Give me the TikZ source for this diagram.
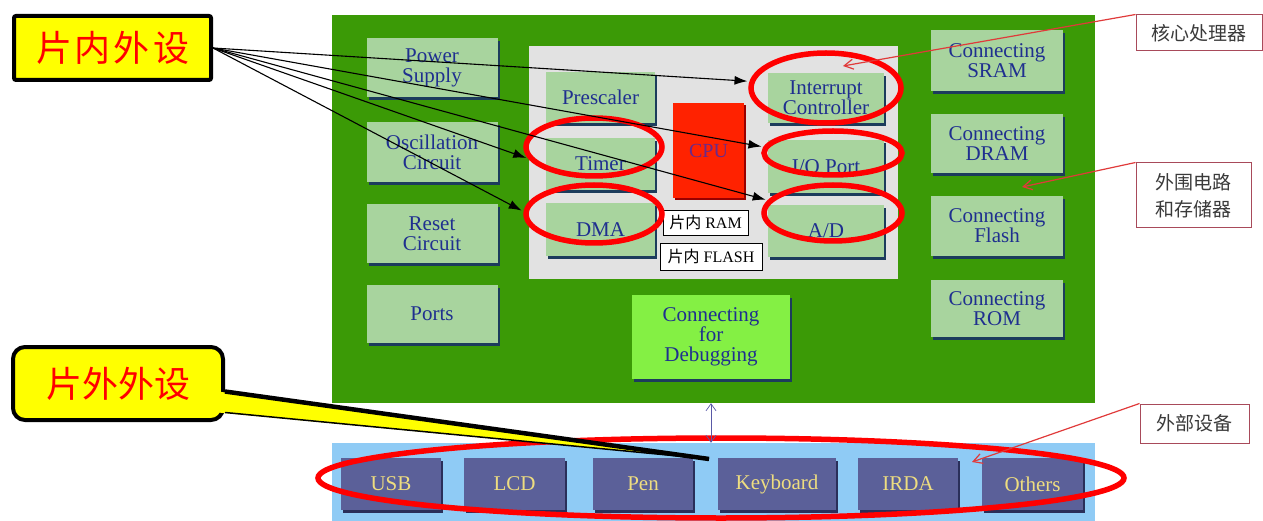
\documentclass[tikz,border=0pt]{standalone}
\usepackage{fontspec}
\setmainfont{Liberation Serif}
\newfontfamily\cjk{Noto Sans CJK SC}
\usepackage{tikz}
\usetikzlibrary{arrows.meta,shadows,shapes.geometric}
\definecolor{boardgreen}{HTML}{3B9A06}
\definecolor{partfill}{HTML}{A8D49E}
\definecolor{partedge}{HTML}{1C3C5C}
\definecolor{partink}{HTML}{1F2F8F}
\definecolor{corefill}{HTML}{E2E2E2}
\definecolor{cpured}{HTML}{FF2200}
\definecolor{cpuink}{HTML}{6A2A8A}
\definecolor{dbgfill}{HTML}{84F044}
\definecolor{busblue}{HTML}{8FCBF5}
\definecolor{devfill}{HTML}{5B6099}
\definecolor{devedge}{HTML}{2A2F5A}
\definecolor{devink}{HTML}{EEDD80}
\definecolor{ringred}{HTML}{FF0000}
\definecolor{calloutyellow}{HTML}{FFFF00}
\definecolor{labeledge}{HTML}{A84A5A}
\definecolor{labelink}{HTML}{3A3A3A}
\definecolor{pointerred}{HTML}{E03A3A}
\newcommand{\partfont}{\fontsize{21}{20}\selectfont}
\newcommand{\devfont}{\fontsize{21}{21}\selectfont}
\tikzset{
  part/.style={fill=partfill,text=partink,align=center,font=\partfont,
    minimum width=131pt,minimum height=59pt,inner sep=0pt,
    drop shadow={shadow xshift=2pt,shadow yshift=-3pt,fill=partedge,opacity=1}},
  inpart/.style={part,minimum width=109pt,minimum height=51pt},
  device/.style={fill=devfill,text=devink,font=\devfont,inner sep=0pt,
    minimum width=100pt,minimum height=52pt,
    drop shadow={shadow xshift=2pt,shadow yshift=-3pt,fill=devedge,opacity=1}},
  memtag/.style={draw=black,fill=white,font=\fontsize{16}{16}\selectfont,inner sep=0pt},
  ring/.style={ellipse,draw=ringred,line width=5.5pt,inner sep=0pt},
  ptr/.style={-{Latex[length=13pt,width=9pt]},line width=1.1pt,shorten >=2pt},
  pointer/.style={-{Straight Barb[length=9pt,width=10pt]},draw=pointerred,line width=1.2pt},
  sidelabel/.style={draw=labeledge,fill=white,text=labelink,align=center,
    font=\cjk\fontsize{19}{27}\selectfont,inner sep=0pt,line width=1pt},
}
\begin{document}
\begin{tikzpicture}[x=1pt,y=-1pt]
  \useasboundingbox (0,0) rectangle (1263,521);
  % board and bus
  \node[fill=boardgreen,minimum width=763pt,minimum height=388pt,inner sep=0pt] (board) at (713.5,209) {};
  \node[fill=busblue,minimum width=763pt,minimum height=78pt,inner sep=0pt] (bus) at (713.5,482) {};
  \node[fill=corefill,minimum width=369pt,minimum height=233pt,inner sep=0pt] (core) at (713.5,162.5) {};
  % left column
  \node[part] (power) at (432,67.5) {Power\\Supply};
  \node[part,minimum height=60pt] (osc) at (432,152) {Oscillation\\Circuit};
  \node[part] (reset) at (432,234) {Reset\\Circuit};
  \node[part,minimum height=58pt] (ports) at (432,314) {Ports};
  % inside the chip
  \node[inpart] (presc) at (600.5,97.5) {Prescaler};
  \node[inpart,minimum height=52pt] (timer) at (600.5,164) {Timer};
  \node[inpart,minimum height=53pt] (dma) at (600.5,230) {DMA};
  \node[fill=cpured,text=cpuink,font=\fontsize{20}{20}\selectfont,minimum width=71pt,minimum height=95pt,inner sep=0pt,
    drop shadow={shadow xshift=2pt,shadow yshift=-2pt,fill=red!60!black,opacity=1}] (cpu) at (708.5,150.5) {CPU};
  \node[memtag,minimum width=85pt,minimum height=25pt] (ram) at (705.5,222.5) {{\cjk 片内} RAM};
  \node[memtag,minimum width=102pt,minimum height=27pt] (flash) at (711,256.5) {{\cjk 片内} FLASH};
  \node[inpart,minimum width=116pt,minimum height=50pt] (intc) at (826,98) {Interrupt\\Controller};
  \node[inpart,minimum width=116pt,minimum height=53pt] (iop) at (826,166.5) {I/O Port};
  \node[inpart,minimum width=116pt,minimum height=52pt] (adc) at (826,231) {A/D};
  % right column
  \node[part,minimum width=132pt,minimum height=61pt] (sram) at (997,60.5) {Connecting\\SRAM};
  \node[part,minimum width=132pt] (dram) at (997,143.5) {Connecting\\DRAM};
  \node[part,minimum width=132pt,minimum height=60pt] (flashc) at (997,226) {Connecting\\Flash};
  \node[part,minimum width=132pt,minimum height=57pt] (rom) at (997,308.5) {Connecting\\ROM};
  \node[part,fill=dbgfill,minimum width=158pt,minimum height=84pt] (dbg) at (711,337) {Connecting\\for\\Debugging};
  % devices
  \node[device] (usb) at (391,484) {USB};
  \node[device,minimum width=101pt] (lcd) at (514.5,484) {LCD};
  \node[device] (pen) at (643,484) {Pen};
  \node[device,minimum width=118pt] (kbd) at (777,484) {Keyboard};
  \node[device] (irda) at (908,484) {IRDA};
  \node[device,minimum width=101pt] (others) at (1032.5,484) {Others};
  % rings
  \node[ring,minimum width=150pt,minimum height=70pt] (ringintc) at (826,88) {};
  \node[ring,minimum width=138pt,minimum height=44pt] (ringiop) at (833,153) {};
  \node[ring,minimum width=138pt,minimum height=56pt] (ringadc) at (833,213) {};
  \node[ring,minimum width=136pt,minimum height=58pt] (ringtimer) at (594,147) {};
  \node[ring,minimum width=136pt,minimum height=58pt] (ringdma) at (594,214) {};
  \node[ring,minimum width=806pt,minimum height=80pt] (ringbus) at (721,478) {};
  \draw[{Straight Barb[length=7pt,width=10pt]}-{Straight Barb[length=7pt,width=10pt]},draw=gray!70!blue,line width=0.7pt]
    (dbg.south |- board.south) -- (dbg.south |- bus.north);
  % on-chip peripherals
  \node[draw=black,line width=4pt,rounded corners=2pt,fill=calloutyellow,text=ringred,
    minimum width=197pt,minimum height=64pt,font=\cjk\fontsize{36}{36}\selectfont] (inpref) at (112.5,48)
    {片\hspace{3pt}内\hspace{3pt}外\hspace{3pt}设};
  \draw[ptr] (inpref.east) -- (ringintc.175);
  \draw[ptr] (inpref.east) -- (ringiop.175);
  \draw[ptr] (inpref.east) -- (ringadc.169);
  \draw[ptr] (inpref.east) -- (ringtimer.190);
  \draw[ptr] (inpref.east) -- (ringdma.178);
  % off-chip peripherals
  \coordinate (offtip) at (709,459);
  \node[draw=black,line width=4pt,rounded corners=12pt,fill=calloutyellow,text=ringred,
    minimum width=210pt,minimum height=73pt,font=\cjk\fontsize{36}{36}\selectfont] (offpref) at (118,383.5)
    {片外外设};
  \fill[calloutyellow] ([xshift=-7pt,yshift=-8pt]offpref.east) -- (offtip) -- ([xshift=-7pt,yshift=-29pt]offpref.east) -- cycle;
  \draw[line width=4.5pt] ([yshift=-8pt]offpref.east) -- (offtip);
  \draw[line width=1.5pt] ([yshift=-29pt]offpref.east) -- (offtip);
  % side labels
  \node[sidelabel,minimum width=126pt,minimum height=36pt] (corelbl) at (1199,33) {核心处理器};
  \node[sidelabel,minimum width=115pt,minimum height=65pt] (perilbl) at (1193.5,195.5) {外围电路\\和存储器};
  \node[sidelabel,minimum width=109pt,minimum height=39pt] (extlbl) at (1194.5,423.5) {外部设备};
  \coordinate (coretip) at (843,66);
  \coordinate (peritip) at (1022,187);
  \coordinate (exttip) at (972,462);
  \draw[pointer] (corelbl.north west) -- (coretip);
  \draw[pointer] (perilbl.north west) -- (peritip);
  \draw[pointer] (extlbl.north west) -- (exttip);
\end{tikzpicture}
\end{document}
